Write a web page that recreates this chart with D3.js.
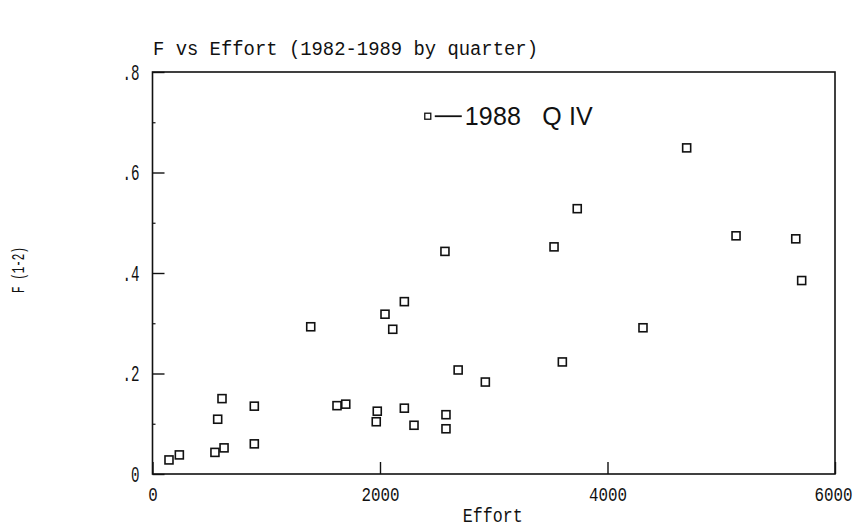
<!DOCTYPE html>
<html>
<head>
<meta charset="utf-8">
<script src="https://cdn.jsdelivr.net/npm/d3@7"></script>
<style>
  body { margin: 0; background: #fff; }
  text { fill: #111; }
</style>
</head>
<body>
<svg id="chart"></svg>
<script>
// effort and F(1-2) for each quarter
const effort = [145, 236, 549, 629, 895, 573, 611, 895, 1391, 1622,
                1699, 1976, 1967, 2214, 2299, 2580, 2580, 2687, 2571, 3734,
                3530, 5130, 5655, 5707, 2214, 2044, 2112, 4312, 3603, 2926,
                4696];
const fValues = [0.028, 0.038, 0.043, 0.052, 0.060, 0.109, 0.150, 0.135, 0.293, 0.136,
                 0.139, 0.125, 0.104, 0.131, 0.097, 0.118, 0.090, 0.207, 0.443, 0.528,
                 0.452, 0.474, 0.468, 0.385, 0.343, 0.318, 0.288, 0.291, 0.223, 0.183,
                 0.649];
const xTicks = [0, 2000, 4000, 6000];
const yTicks = [0, 0.2, 0.4, 0.6, 0.8];
const yMinorTicks = [0.1, 0.3, 0.5, 0.7];
const noteEffort = 2420;
const noteF = 0.712;
const noteLabel = "1988   Q IV";

const width = 860;
const height = 531;

let svg = d3.select("#chart")
            .attr("width", width)
            .attr("height", height);

const margin = {top: 72, right: 25, bottom: 57, left: 152.5};
const viewWidth = width - margin.left - margin.right;
const viewHeight = height - margin.top - margin.bottom;

const g = svg.append("g")
             .attr("transform", "translate(" + margin.left + "," + margin.top + ")");

const x = d3.scaleLinear().domain([0, 6000]).range([0, viewWidth]);
const y = d3.scaleLinear().domain([0, 0.8]).range([viewHeight, 0]);

const labelFont = "'Liberation Mono', 'DejaVu Sans Mono', monospace";

// narrow, tall plotter-ish lettering
function squeeze(sel, perChar) {
  sel.attr("textLength", function() { return this.textContent.length * perChar; })
     .attr("lengthAdjust", "spacingAndGlyphs");
}

// frame
g.append("rect")
 .attr("width", viewWidth)
 .attr("height", viewHeight)
 .attr("fill", "none")
 .attr("stroke", "#111")
 .attr("stroke-width", 1.6);

const yAxis = g.append("g")
               .call(d3.axisLeft(y)
                       .tickValues(yTicks)
                       .tickSize(-12)
                       .tickSizeOuter(0)
                       .tickPadding(13)
                       .tickFormat(d => d === 0 ? "0" : d3.format(".1f")(d).replace(/^0/, "")));
yAxis.select(".domain").remove();
yAxis.selectAll("line").attr("stroke", "#111").attr("stroke-width", 1.4);
yAxis.selectAll("text")
     .style("font-family", labelFont)
     .style("font-size", "22px")
     .call(squeeze, 8.5);

const yMinor = g.append("g")
                .call(d3.axisLeft(y)
                        .tickValues(yMinorTicks)
                        .tickSize(-3)
                        .tickSizeOuter(0)
                        .tickFormat(""));
yMinor.select(".domain").remove();
yMinor.selectAll("line").attr("stroke", "#111").attr("stroke-width", 1.2);

const xAxis = g.append("g")
               .attr("transform", "translate(0," + viewHeight + ")")
               .call(d3.axisBottom(x)
                       .tickValues(xTicks)
                       .tickSize(-12)
                       .tickSizeOuter(0)
                       .tickPadding(12)
                       .tickFormat(d3.format("d")));
xAxis.select(".domain").remove();
xAxis.selectAll("line").attr("stroke", "#111").attr("stroke-width", 1.4);
xAxis.selectAll("text")
     .style("font-family", labelFont)
     .style("font-size", "21px")
     .call(squeeze, 9.5);
xAxis.selectAll(".tick:last-of-type text").attr("dx", -2);

// points
g.append("g")
 .selectAll("rect")
 .data(effort.map((e, i) => ({effort: e, f: fValues[i]})))
 .enter()
 .append("rect")
 .attr("x", d => x(d.effort) - 4)
 .attr("y", d => y(d.f) - 4)
 .attr("width", 8)
 .attr("height", 8)
 .attr("fill", "none")
 .attr("stroke", "#111")
 .attr("stroke-width", 1.6);

// 1988 Q IV note
const nx = x(noteEffort);
const ny = y(noteF);
g.append("rect")
 .attr("x", nx - 3)
 .attr("y", ny - 3)
 .attr("width", 6)
 .attr("height", 6)
 .attr("fill", "none")
 .attr("stroke", "#111")
 .attr("stroke-width", 1.3);
g.append("line")
 .attr("x1", nx + 7)
 .attr("x2", nx + 34)
 .attr("y1", ny)
 .attr("y2", ny)
 .attr("stroke", "#111")
 .attr("stroke-width", 1.8);
g.append("text")
 .attr("x", nx + 37)
 .attr("y", ny + 9)
 .style("font-family", "'Liberation Sans', Arial, sans-serif")
 .style("font-size", "25px")
 .style("white-space", "pre")
 .attr("xml:space", "preserve")
 .attr("textLength", 128)
 .text(noteLabel);

// titles
svg.append("text")
   .attr("x", 153)
   .attr("y", 55)
   .attr("textLength", 385)
   .attr("lengthAdjust", "spacingAndGlyphs")
   .style("font-family", labelFont)
   .style("font-size", "20px")
   .text("F vs Effort (1982-1989 by quarter)");

svg.append("text")
   .attr("x", margin.left + viewWidth / 2 - 1)
   .attr("y", 522)
   .attr("text-anchor", "middle")
   .attr("textLength", 60)
   .attr("lengthAdjust", "spacingAndGlyphs")
   .style("font-family", labelFont)
   .style("font-size", "20px")
   .text("Effort");

svg.append("text")
   .attr("transform", "translate(24,270) rotate(-90)")
   .attr("text-anchor", "middle")
   .attr("textLength", 46)
   .attr("lengthAdjust", "spacingAndGlyphs")
   .style("font-family", labelFont)
   .style("font-size", "18px")
   .text("F (1-2)");
</script>
</body>
</html>
